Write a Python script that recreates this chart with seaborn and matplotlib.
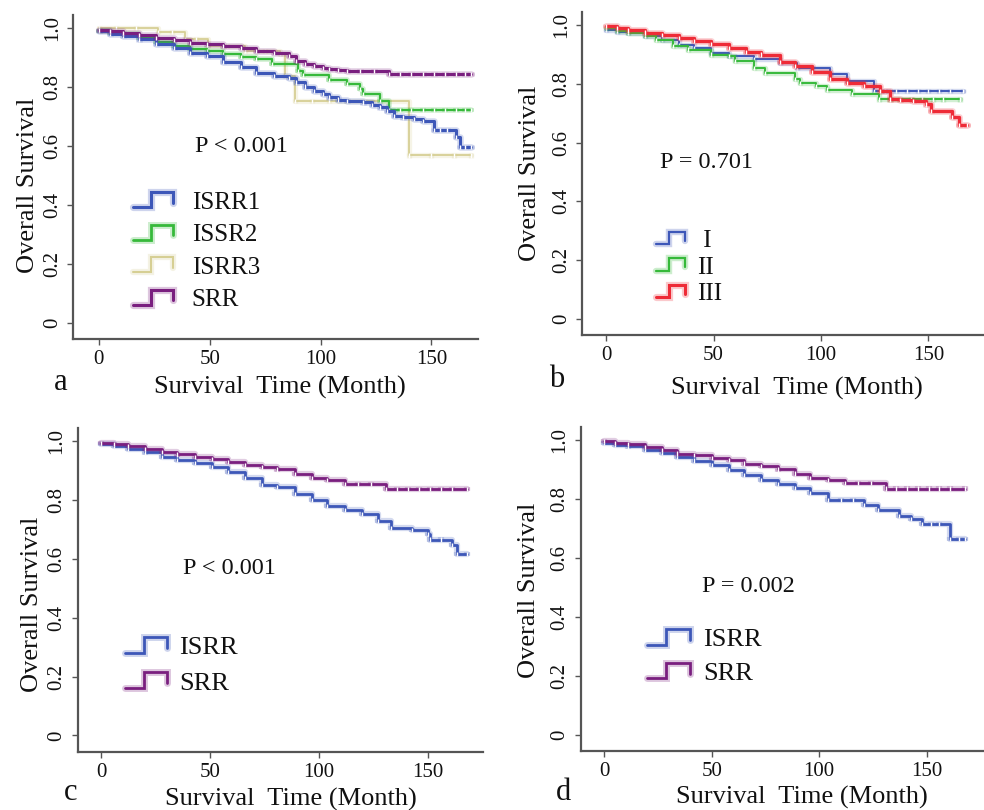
"""Kaplan-Meier overall survival curves, four panels (a-d)."""

import matplotlib.patheffects as pe
import matplotlib.pyplot as plt
import numpy as np
import seaborn as sns
from matplotlib.legend_handler import HandlerBase
from matplotlib.lines import Line2D

# Colours
BLUE = "#3d57b8"
GREEN = "#36b93a"
KHAKI = "#d6cf94"
PURPLE = "#7a1f7f"
RED = "#ee2b37"

# ---- Panel a ----
a_isrr1_t = [0, 5, 11, 18, 26, 34, 41, 49, 56, 64, 71, 79, 86, 89, 93, 97, 101, 104,
             108, 112, 119, 123, 127, 130, 133, 137, 142, 146, 151, 154, 157, 161, 163, 165, 168]
a_isrr1_s = [0.990, 0.982, 0.974, 0.962, 0.946, 0.932, 0.917, 0.906, 0.884, 0.867, 0.848,
             0.839, 0.830, 0.816, 0.802, 0.788, 0.776, 0.765, 0.758, 0.754, 0.748, 0.740,
             0.731, 0.718, 0.703, 0.697, 0.692, 0.686, 0.655, 0.655, 0.655, 0.630, 0.596,
             0.596, 0.596]
a_issr2_t = [0, 5, 11, 18, 26, 34, 41, 49, 56, 64, 71, 78, 90, 92, 104, 112, 118, 119,
             127, 131, 136, 141, 146, 151, 156, 161, 165, 168]
a_issr2_s = [0.990, 0.985, 0.980, 0.966, 0.952, 0.941, 0.930, 0.924, 0.912, 0.901, 0.895,
             0.878, 0.855, 0.840, 0.824, 0.810, 0.793, 0.777, 0.752, 0.723, 0.723, 0.723,
             0.723, 0.723, 0.723, 0.723, 0.723, 0.723]
a_isrr3_t = [0, 8, 17, 26.8, 33, 39, 44, 49.3, 58, 66, 75, 81.8, 84, 88.6, 96, 104, 112,
             120, 139.7, 150, 160, 168]
a_isrr3_s = [1.000, 1.000, 1.000, 0.987, 0.987, 0.963, 0.963, 0.940, 0.940, 0.923, 0.923,
             0.913, 0.839, 0.754, 0.754, 0.754, 0.754, 0.754, 0.568, 0.568, 0.568, 0.568]
a_srr_t = [0, 5, 11, 18, 26, 34, 41, 49, 56, 64, 71, 79, 86, 89, 93, 97, 101, 104, 108,
           112, 118, 124, 131, 136, 141, 146, 151, 156, 161, 165, 168]
a_srr_s = [0.995, 0.990, 0.985, 0.977, 0.968, 0.960, 0.951, 0.945, 0.940, 0.934, 0.923,
           0.917, 0.905, 0.889, 0.880, 0.872, 0.866, 0.861, 0.858, 0.855, 0.855, 0.855,
           0.844, 0.844, 0.844, 0.844, 0.844, 0.844, 0.844, 0.844, 0.844]

# ---- Panel b ----
b_i_t = [0, 5, 10, 18, 26, 34, 41, 49, 57, 69, 81, 88.7, 96, 104.2, 112, 124.5, 130, 135,
         140, 145, 150, 155, 160, 166]
b_i_s = [0.985, 0.978, 0.974, 0.963, 0.951, 0.934, 0.923, 0.906, 0.894, 0.886, 0.872,
         0.855, 0.855, 0.835, 0.810, 0.775, 0.775, 0.775, 0.775, 0.775, 0.775, 0.775,
         0.775, 0.775]
b_ii_t = [0, 5, 10, 18, 23, 31, 38, 49, 57, 60, 69, 74, 88, 90, 97.7, 103, 114.3, 127,
          132, 137, 142, 147, 152, 157, 164.7]
b_ii_s = [0.990, 0.980, 0.974, 0.963, 0.951, 0.929, 0.917, 0.900, 0.894, 0.877, 0.855,
          0.838, 0.817, 0.804, 0.792, 0.781, 0.767, 0.747, 0.747, 0.747, 0.747, 0.747,
          0.747, 0.747, 0.747]
b_iii_t = [0, 5, 10, 18, 26, 34, 41, 49, 57, 65, 72, 81, 88, 96, 104, 112, 120, 127.5,
           132, 137, 143, 149, 151, 160.9, 164, 167.8]
b_iii_s = [0.997, 0.990, 0.982, 0.975, 0.966, 0.956, 0.946, 0.935, 0.923, 0.910, 0.900,
           0.874, 0.862, 0.840, 0.818, 0.804, 0.792, 0.775, 0.747, 0.744, 0.741, 0.730,
           0.707, 0.688, 0.661, 0.661]

# ---- Panel c ----
c_isrr_t = [0, 6, 12.5, 20, 28, 35, 43, 51, 58.5, 66, 74, 81, 89, 97, 104, 112, 120, 127,
            133, 143, 150, 151, 156, 161, 163.3, 168]
c_isrr_s = [0.990, 0.983, 0.975, 0.962, 0.947, 0.937, 0.926, 0.912, 0.896, 0.875, 0.850,
            0.845, 0.822, 0.799, 0.779, 0.765, 0.754, 0.729, 0.706, 0.697, 0.686, 0.666,
            0.666, 0.646, 0.616, 0.616]
c_srr_t = [0, 6, 12.5, 20, 28, 35, 43, 51, 58.5, 66, 74, 81, 89, 97, 104, 112, 118, 124,
           131, 136, 141, 146, 151, 156, 161, 168]
c_srr_s = [0.995, 0.990, 0.983, 0.974, 0.964, 0.955, 0.947, 0.940, 0.930, 0.918, 0.913,
           0.904, 0.890, 0.876, 0.867, 0.856, 0.856, 0.856, 0.839, 0.839, 0.839, 0.839,
           0.839, 0.839, 0.839, 0.839]

# ---- Panel d ----
d_isrr_t = [0, 5, 11, 19, 27, 34, 42, 50, 58, 65, 73, 81, 89, 96, 104, 110, 116, 121,
            127.5, 137, 143, 148, 152, 156, 161, 165, 168]
d_isrr_s = [0.990, 0.984, 0.978, 0.967, 0.955, 0.943, 0.930, 0.915, 0.899, 0.882, 0.865,
            0.851, 0.837, 0.820, 0.797, 0.797, 0.797, 0.780, 0.761, 0.743, 0.731, 0.716,
            0.716, 0.716, 0.665, 0.665, 0.665]
d_srr_t = [0, 5, 11, 19, 27, 34, 42, 50, 58, 65, 73, 81, 89, 96, 104, 112, 118, 124, 131,
           136, 141, 146, 151, 156, 161, 168]
d_srr_s = [0.997, 0.991, 0.985, 0.976, 0.967, 0.954, 0.948, 0.940, 0.933, 0.920, 0.911,
           0.900, 0.886, 0.872, 0.863, 0.854, 0.854, 0.854, 0.835, 0.835, 0.835, 0.835,
           0.835, 0.835, 0.835, 0.835]

y_ticks = [0, 0.2, 0.4, 0.6, 0.8, 1.0]
y_ticklabels = ["0", "0.2", "0.4", "0.6", "0.8", "1.0"]
x_ticks = [0, 50, 100, 150]


class StepHandler(HandlerBase):
    """Draw a small survival-step icon as legend handle."""

    def create_artists(self, legend, orig_handle, xdescent, ydescent, width, height,
                       fontsize, trans):
        x = np.array([0, 0.45, 0.45, 1, 1]) * width - xdescent
        y = np.array([0.0, 0.0, 1.0, 1.0, 0.3]) * height - ydescent
        color = orig_handle.get_color()
        lw = orig_handle.get_linewidth()
        ln = Line2D(x, y, color=color, lw=lw, solid_joinstyle="miter",
                    path_effects=[pe.Stroke(linewidth=lw + 3, foreground=color, alpha=0.25),
                                  pe.Normal()])
        ln.set_transform(trans)
        return [ln]


def draw_curve(ax, t, s, color, lw):
    sns.lineplot(x=t, y=s, color=color, lw=lw, drawstyle="steps-post",
                 estimator=None, ax=ax, marker="|", markersize=3, markeredgewidth=1,
                 path_effects=[pe.Stroke(linewidth=lw + 2.5, foreground=color, alpha=0.22),
                               pe.Normal()])


def style_axis(ax, xlim, xlab_pos, ylab_pos):
    ax.set_xlim(*xlim)
    ax.set_ylim(-0.055, 1.045)
    ax.set_xticks(x_ticks)
    ax.set_yticks(y_ticks)
    ax.set_yticklabels(y_ticklabels, rotation=90, va="center")
    ax.tick_params(labelsize=15, length=4, width=1, color="#555555", labelcolor="#111111",
                   direction="out", pad=4)
    for side in ["top", "right"]:
        ax.spines[side].set_visible(False)
    for side in ["left", "bottom"]:
        ax.spines[side].set_color("#555555")
        ax.spines[side].set_linewidth(1.6)
    ax.set_xlabel("Survival  Time (Month)", fontsize=19, color="#111111")
    ax.set_ylabel("Overall Survival", fontsize=19, color="#111111")
    ax.xaxis.set_label_coords(*xlab_pos)
    ax.yaxis.set_label_coords(*ylab_pos)


def add_legend(ax, labels, colors, lws, anchor, fontsize, spacing, hl, hh, pad):
    handles = [Line2D([], [], color=c, lw=w, label=l) for l, c, w in zip(labels, colors, lws)]
    leg = ax.legend(handles=handles, handler_map={Line2D: StepHandler()}, loc="upper left",
                    bbox_to_anchor=anchor, frameon=False, fontsize=fontsize, borderpad=0,
                    borderaxespad=0, labelspacing=spacing, handlelength=hl,
                    handleheight=hh, handletextpad=pad)
    for txt in leg.get_texts():
        txt.set_color("#111111")


sns.set_style("ticks")
plt.rcParams["font.family"] = ["Liberation Serif", "DejaVu Serif"]
plt.rcParams["text.color"] = "#111111"

fig = plt.figure(figsize=(9.84, 8.1), dpi=100)
ax_a = fig.add_axes([0.0742, 0.5815, 0.4116, 0.400])
ax_b = fig.add_axes([0.5915, 0.5864, 0.4075, 0.3988])
ax_c = fig.add_axes([0.0790, 0.0720, 0.4116, 0.3996])
ax_d = fig.add_axes([0.5900, 0.0732, 0.4088, 0.4000])

# a
draw_curve(ax_a, a_isrr3_t, a_isrr3_s, KHAKI, 1.3)
draw_curve(ax_a, a_issr2_t, a_issr2_s, GREEN, 1.6)
draw_curve(ax_a, a_isrr1_t, a_isrr1_s, BLUE, 2.2)
draw_curve(ax_a, a_srr_t, a_srr_s, PURPLE, 2.2)
style_axis(ax_a, (-11.6, 171), (0.51, -0.113), (-0.085, 0.475))
ax_a.text(43.5, 0.60, "P < 0.001", fontsize=17.5, va="center")
add_legend(ax_a, ["ISRR1", "ISSR2", "ISRR3", "SRR"], [BLUE, GREEN, KHAKI, PURPLE],
           [2.2, 2.0, 1.5, 2.2], (0.148, 0.455), 18, 0.42, 1.6, 0.55, 0.75)

# b
draw_curve(ax_b, b_i_t, b_i_s, BLUE, 1.4)
draw_curve(ax_b, b_ii_t, b_ii_s, GREEN, 1.4)
draw_curve(ax_b, b_iii_t, b_iii_s, RED, 2.4)
style_axis(ax_b, (-11.2, 175.4), (0.535, -0.13), (-0.102, 0.50))
ax_b.text(25.1, 0.531, "P = 0.701", fontsize=17.5, va="center")
add_legend(ax_b, [" I", "II", "III"], [BLUE, GREEN, RED], [1.6, 1.6, 2.2],
           (0.184, 0.325), 18, 0.18, 1.15, 0.4, 0.5)

# c
draw_curve(ax_c, c_isrr_t, c_isrr_s, BLUE, 2.0)
draw_curve(ax_c, c_srr_t, c_srr_s, PURPLE, 2.0)
style_axis(ax_c, (-10.7, 175.3), (0.526, -0.113), (-0.086, 0.456))
ax_c.text(37.8, 0.567, "P < 0.001", fontsize=17.5, va="center")
add_legend(ax_c, ["ISRR", "SRR"], [BLUE, PURPLE], [2.0, 2.0], (0.117, 0.355), 19, 0.5,
           1.6, 0.55, 0.45)

# d
draw_curve(ax_d, d_isrr_t, d_isrr_s, BLUE, 2.0)
draw_curve(ax_d, d_srr_t, d_srr_s, PURPLE, 2.0)
style_axis(ax_d, (-11.0, 176.2), (0.551, -0.11), (-0.101, 0.496))
ax_d.text(45.6, 0.501, "P = 0.002", fontsize=17.5, va="center")
add_legend(ax_d, ["ISRR", "SRR"], [BLUE, PURPLE], [2.0, 2.0], (0.164, 0.375), 19, 0.42,
           1.65, 0.55, 0.5)

# Panel letters
for letter, x, y in [("a", 0.062, 0.528), ("b", 0.566, 0.531), ("c", 0.072, 0.021),
                     ("d", 0.573, 0.021)]:
    fig.text(x, y, letter, fontsize=22, ha="center", va="center")

fig.savefig("out.png", dpi=100)
